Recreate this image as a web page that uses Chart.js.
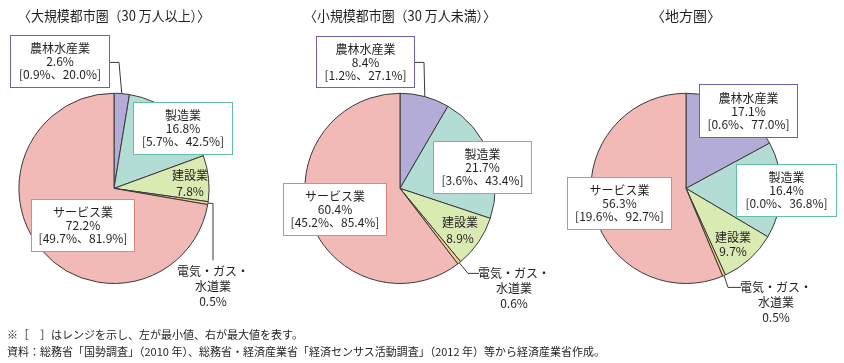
<!DOCTYPE html>
<html lang="ja">
<head>
<meta charset="utf-8">
<script src="https://cdn.jsdelivr.net/npm/chart.js@4.4.1/dist/chart.umd.min.js"></script>
<style>
  html, body { margin: 0; padding: 0; background: #fff; width: 844px; height: 363px; overflow: hidden; }
  body { position: relative; font-family: "Noto Sans CJK JP", sans-serif; color: #231f20; }
  canvas { position: absolute; top: 0; }
  .note { position: absolute; left: 7px; font-size: 11px; line-height: 1; white-space: nowrap; }
</style>
</head>
<body>
<canvas id="pie1" width="320" height="330" style="left:-46px"></canvas>
<canvas id="pie2" width="320" height="330" style="left:240px"></canvas>
<canvas id="pie3" width="320" height="330" style="left:526px"></canvas>
<div class="note" style="top:329px">※［　］はレンジを示し、左が最小値、右が最大値を表す。</div>
<div class="note" style="top:346px">資料：総務省「国勢調査」（2010 年）、総務省・経済産業省「経済センサス活動調査」（2012 年）等から経済産業省作成。</div>
<script>
// 産業別構成比（%）
const categories = ["農林水産業", "製造業", "建設業", "電気・ガス・水道業", "サービス業"];
const titles = ["〈大規模都市圏（30 万人以上）〉", "〈小規模都市圏（30 万人未満）〉", "〈地方圏〉"];

const largeCity = [2.6, 16.8, 7.8, 0.5, 72.2];
const largeMin  = [0.9, 5.7, null, null, 49.7];
const largeMax  = [20.0, 42.5, null, null, 81.9];

const smallCity = [8.4, 21.7, 8.9, 0.6, 60.4];
const smallMin  = [1.2, 3.6, null, null, 45.2];
const smallMax  = [27.1, 43.4, null, null, 85.4];

const rural    = [17.1, 16.4, 9.7, 0.5, 56.3];
const ruralMin = [0.6, 0.0, null, null, 19.6];
const ruralMax = [77.0, 36.8, null, null, 92.7];

const sliceColors = ["#b2acd7", "#b3ddd4", "#d9eab2", "#f8c98c", "#f1bab6"];
const boxColors   = ["#6f62a9", "#63c0a6", null, null, "#e9817b"];
const textColor = "#231f20";
const font = '"Noto Sans CJK JP", sans-serif';

// ラベル配置（円の中心からの相対位置）
const layout1 = [
  { box: [-104, -153, 99, 52], leader: [[-5, -126], [5, -126]] },
  { box: [19, -86, 99, 52] },
  { text: [76, -13], lh: 16 },
  { text: [99, 83], lh: 15, leader: [[99, 72], [99, 15]] },
  { box: [-83, 11, 103, 52] }
];
const layout2 = [
  { box: [-84, -152, 98, 51], leader: [[14, -126], [24, -126]] },
  { box: [33, -47, 98, 52] },
  { text: [60, 34], lh: 16 },
  { text: [114, 85], lh: 15, leader: [[79, 85], [68, 85]] },
  { box: [-117, -5, 103, 52] }
];
const layout3 = [
  { box: [13, -104, 98, 53] },
  { box: [50, -24, 100, 52] },
  { text: [47, 49], lh: 14 },
  { text: [90, 99], lh: 15, leader: [[55, 99], [42, 99]] },
  { box: [-119, -11, 104, 52] }
];

function labelLines(i, values, mins, maxs) {
  const name = i === 3 ? ["電気・ガス・", "水道業"] : [categories[i]];
  const lines = name.concat([values[i].toFixed(1) + "%"]);
  if (mins[i] !== null) lines.push("[" + mins[i].toFixed(1) + "%、" + maxs[i].toFixed(1) + "%]");
  return lines;
}

const sectorLabels = {
  id: "sectorLabels",
  afterDatasetsDraw(chart, args, opts) {
    const ctx = chart.ctx;
    const meta = chart.getDatasetMeta(0);
    ctx.save();
    ctx.font = "12px " + font;
    ctx.textAlign = "center";
    ctx.textBaseline = "middle";
    meta.data.forEach((arc, i) => {
      const p = arc.getProps(["x", "y", "startAngle", "endAngle", "outerRadius"], true);
      const L = opts.layout[i];
      const mid = (p.startAngle + p.endAngle) / 2;
      const ax = p.x + Math.cos(mid) * p.outerRadius;
      const ay = p.y + Math.sin(mid) * p.outerRadius;
      const lines = labelLines(i, opts.values, opts.mins, opts.maxs);

      if (L.leader) {
        ctx.beginPath();
        ctx.strokeStyle = "#3a3a3a";
        ctx.lineWidth = 1;
        L.leader.forEach((pt, k) => {
          const x = p.x + pt[0], y = p.y + pt[1];
          if (k === 0) ctx.moveTo(x, y); else ctx.lineTo(x, y);
        });
        ctx.lineTo(ax, ay);
        ctx.stroke();
      }

      if (L.box) {
        const [bx, by, bw, bh] = L.box;
        const x0 = Math.round(p.x + bx) + 0.5, y0 = Math.round(p.y + by) + 0.5;
        ctx.fillStyle = "#fff";
        ctx.fillRect(x0, y0, bw, bh);
        ctx.strokeStyle = boxColors[i];
        ctx.lineWidth = 1;
        ctx.strokeRect(x0, y0, bw, bh);
        ctx.fillStyle = textColor;
        lines.forEach((t, k) => {
          ctx.fillText(t, x0 + bw / 2, y0 + bh / 2 + (k - 1) * 13);
        });
      } else {
        const [tx, ty] = L.text;
        ctx.fillStyle = textColor;
        lines.forEach((t, k) => {
          ctx.fillText(t, p.x + tx, p.y + ty + k * L.lh);
        });
      }
    });
    ctx.restore();
  }
};

function makePie(id, title, values, mins, maxs, layout) {
  return new Chart(document.getElementById(id), {
    type: "pie",
    data: {
      labels: categories,
      datasets: [{
        data: values,
        backgroundColor: sliceColors,
        borderColor: "#3a3a3a",
        borderWidth: 1
      }]
    },
    options: {
      responsive: false,
      animation: false,
      layout: { padding: { left: 64, right: 64, top: 0, bottom: 46 } },
      plugins: {
        legend: { display: false },
        tooltip: { enabled: false },
        title: {
          display: true,
          text: title,
          color: textColor,
          font: { family: font, size: 14, weight: "normal" },
          padding: { top: 7, bottom: 69 }
        },
        sectorLabels: { values, mins, maxs, layout }
      }
    },
    plugins: [sectorLabels]
  });
}

makePie("pie1", titles[0], largeCity, largeMin, largeMax, layout1);
makePie("pie2", titles[1], smallCity, smallMin, smallMax, layout2);
makePie("pie3", titles[2], rural, ruralMin, ruralMax, layout3);
</script>
</body>
</html>
